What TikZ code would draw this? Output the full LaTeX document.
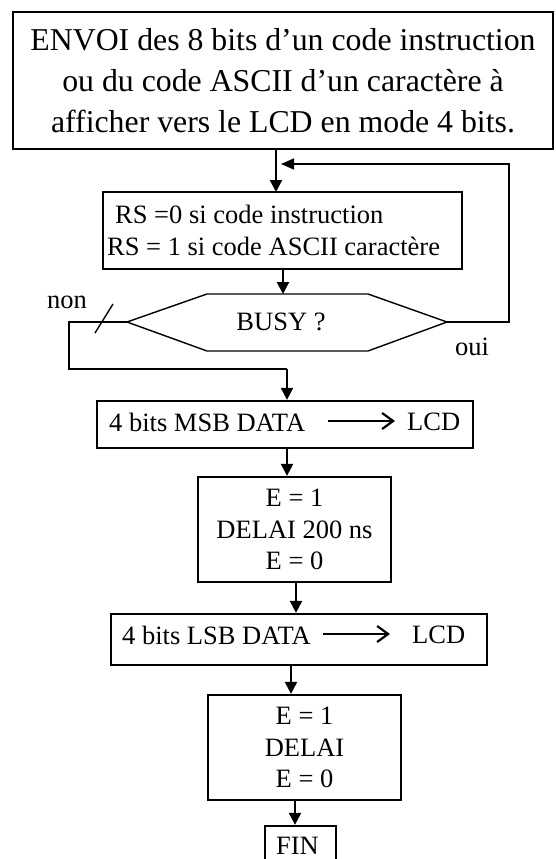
\documentclass[tikz,border=0pt]{standalone}
\usepackage{fontspec}
\setmainfont{Liberation Serif}
\usetikzlibrary{arrows.meta}
\begin{document}
\begin{tikzpicture}[x=1pt,y=-1pt,
  box/.style={draw, line width=2.3pt, inner sep=0pt, align=center, font=\fontsize{26.5}{31.5}\selectfont},
  txt/.style={inner sep=0pt, font=\fontsize{26.5}{31.5}\selectfont},
  arr/.style={line width=2.2pt, -{Triangle[length=12pt,width=12pt]}},
  thinline/.style={line width=1.4pt},
  barb/.style={line width=2.2pt, -{Straight Barb[length=11pt,width=16pt]}}]
\useasboundingbox (0,0) rectangle (555,859);
\clip (0,0) rectangle (555,859);
\fill[white] (0,0) rectangle (555,859);

% top box
\node[box, line width=1.4pt, minimum width=540pt, minimum height=137pt,
  font=\fontsize{31.8}{41}\selectfont] (top) at (283,80.5)
  {ENVOI des 8 bits d’un code instruction\\ou du code ASCII d’un caractère à\\afficher vers le LCD en mode 4 bits.};

% RS box
\node[box, minimum width=359pt, minimum height=77pt] (rs) at (282.5,230.5) {};
\node[txt, align=left, anchor=west] (rstext) at (107,230.5)
  {\hspace*{8pt}RS =0 si code instruction\\RS = 1 si code ASCII caractère};
\coordinate (rsin) at (276,192);
\draw[arr] (top.south -| rsin) -- (rsin);

% hexagon
\coordinate (hl) at (127,322);
\coordinate (hr) at (447,322);
\coordinate (htop) at (283,294);
\draw[thinline] (hl) -- (207,294) -- (368,294) -- (hr) -- (368,351) -- (207,351) -- cycle;
\node[txt] (busy) at (281,322) {BUSY ?};
\draw[arr] (rs.south -| htop) -- (htop);

% oui loop
\coordinate (fb) at (281,164);
\draw[thinline, -{Triangle[length=13pt,width=11pt]}] (hr) -- (509,322) -- (509,164) -- (fb);
\node[txt, anchor=base west] (oui) at (455,355) {oui};

% non branch
\node[txt, anchor=base west] (non) at (47,308) {non};
\draw[thinline] (113,304) -- (95,333);
\coordinate (nj) at (287,369);
\draw[thinline] (hl) -- (69,322) -- (69,369) -- (nj);

% MSB box
\node[box, minimum width=376pt, minimum height=47pt] (msb) at (285,424.5) {};
\node[txt, anchor=west] (msbt) at (109,422) {4 bits MSB DATA};
\node[txt, anchor=west] (msbl) at (407,422) {LCD};
\draw[barb] ([xshift=23pt,yshift=1pt]msbt.east) -- ([xshift=-12pt,yshift=1pt]msbl.west);
\draw[arr] (nj) -- (msb.north -| nj);

% E box 1
\node[box, minimum width=193pt, minimum height=105pt] (e1) at (294.5,529.5)
  {E = 1\\DELAI 200 ns\\E = 0};
\draw[arr] ([xshift=2pt]msb.south) -- ([xshift=-7.5pt]e1.north);

% LSB box
\node[box, minimum width=376pt, minimum height=51pt] (lsb) at (299,639.5) {};
\node[txt, anchor=west] (lsbt) at (122,635) {4 bits LSB DATA};
\node[txt, anchor=west] (lsbl) at (412,635) {LCD};
\draw[barb] ([xshift=12pt,yshift=1pt]lsbt.east) -- ([xshift=-22pt,yshift=1pt]lsbl.west);
\draw[arr] ([xshift=1.5pt]e1.south) -- ([xshift=-3pt]lsb.north);

% E box 2
\node[box, minimum width=193pt, minimum height=105pt] (e2) at (304.5,747.5)
  {E = 1\\DELAI\\E = 0};
\draw[arr] ([xshift=-8pt]lsb.south) -- ([xshift=-13.5pt]e2.north);

% FIN
\node[box, minimum width=71pt, minimum height=60pt] (finbox) at (300.5,856) {};
\node[txt] (fin) at (297.5,846) {FIN};
\draw[arr] ([xshift=-9.5pt]e2.south) -- ([xshift=-5.5pt]finbox.north);
\end{tikzpicture}
\end{document}
